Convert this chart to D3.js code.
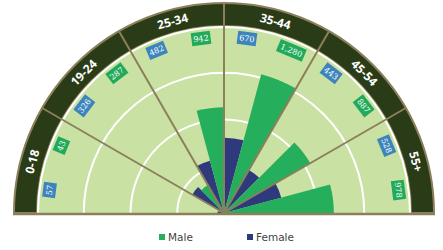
<!DOCTYPE html>
<html>
<head>
<meta charset="utf-8">
<script src="https://cdn.jsdelivr.net/npm/d3@7"></script>
<style>
  body { margin: 0; background: #fff; }
  svg { display: block; }
</style>
</head>
<body>
<div id="chart"></div>
<script>
// age groups, left to right
const groups = ["0-18", "19-24", "25-34", "35-44", "45-54", "55+"];
const female = [57, 326, 482, 670, 443, 528];
const male = [43, 287, 942, 1280, 887, 978];
const maleLabels = ["43", "287", "942", "1,280", "887", "978"];
const femaleLabels = ["57", "326", "482", "670", "443", "528"];

const W = 443, H = 250;
const cx = 224, cy = 213;
const rInner = 187;   // light green area
const rBand = 210;    // outer edge of dark band

const svg = d3.select("#chart").append("svg")
    .attr("width", W)
    .attr("height", H);

const g = svg.append("g").attr("transform", "translate(" + cx + "," + cy + ")");

// radius scale (linear)
const r = d3.scaleLinear().domain([0, 1665]).range([0, rInner]);

const deg = Math.PI / 180;
// sector angle (d3 convention: 0 = up, clockwise)
const angle = d3.scaleBand().domain(groups).range([-90 * deg, 90 * deg]).padding(0);
const step = angle.bandwidth();

const arc = d3.arc();

// dark band
g.append("path")
    .attr("d", arc({innerRadius: rInner, outerRadius: rBand, startAngle: -90 * deg, endAngle: 90 * deg}))
    .attr("fill", "#2a3c17")
    .attr("stroke", "#8c7f5c")
    .attr("stroke-width", 2);

// light background
g.append("path")
    .attr("d", arc({innerRadius: 0, outerRadius: rInner, startAngle: -90 * deg, endAngle: 90 * deg}))
    .attr("fill", "#c9e2a4");

// grid rings
const rings = [rInner / 4, rInner / 2, rInner * 3 / 4, rInner - 1];
g.selectAll(".ring")
    .data(rings)
    .enter().append("path")
    .attr("class", "ring")
    .attr("d", function(d) {
        return d3.arc()({innerRadius: d, outerRadius: d, startAngle: -90 * deg, endAngle: 90 * deg});
    })
    .attr("fill", "none")
    .attr("stroke", "#fff")
    .attr("stroke-width", 2);

// bars: female on the left half of each sector, male on the right
const bars = [];
groups.forEach(function(k, i) {
    const a0 = angle(k);
    bars.push({v: female[i], s: a0, e: a0 + step / 2, c: "#2e3a7b"});
    bars.push({v: male[i], s: a0 + step / 2, e: a0 + step, c: "#25ae5b"});
});

g.selectAll(".bar")
    .data(bars)
    .enter().append("path")
    .attr("class", "bar")
    .attr("d", function(d) {
        return arc({innerRadius: 0, outerRadius: r(d.v), startAngle: d.s, endAngle: d.e});
    })
    .attr("fill", function(d) { return d.c; });

// sector dividers
g.selectAll(".div")
    .data(groups.slice(1))
    .enter().append("line")
    .attr("class", "div")
    .attr("x1", 0).attr("y1", 0)
    .attr("x2", function(d) { return rBand * Math.sin(angle(d)); })
    .attr("y2", function(d) { return -rBand * Math.cos(angle(d)); })
    .attr("stroke", "#8c7f5c")
    .attr("stroke-width", 2);

// baseline
svg.append("line")
    .attr("x1", cx - rBand - 1).attr("x2", cx + rBand + 1)
    .attr("y1", cy + 1).attr("y2", cy + 1)
    .attr("stroke", "#8c7f5c")
    .attr("stroke-width", 2.5);

// value labels
const labels = [];
groups.forEach(function(k, i) {
    const a0 = angle(k);
    labels.push({t: femaleLabels[i], a: a0 + step * 0.25, c: "#3d84bc"});
    labels.push({t: maleLabels[i], a: a0 + step * 0.75, c: "#22aa5a"});
});

const lr = 176;
const lab = g.selectAll(".lab")
    .data(labels)
    .enter().append("g")
    .attr("class", "lab")
    .attr("transform", function(d) {
        return "translate(" + (lr * Math.sin(d.a)) + "," + (-lr * Math.cos(d.a)) + ")rotate(" + (d.a / deg) + ")";
    });

lab.append("rect")
    .attr("x", function(d) { return -(d.t.length * 4.4 + 6) / 2; })
    .attr("y", -6.5)
    .attr("width", function(d) { return d.t.length * 4.4 + 6; })
    .attr("height", 13)
    .attr("fill", function(d) { return d.c; });

lab.append("text")
    .attr("text-anchor", "middle")
    .attr("dy", "0.35em")
    .attr("fill", "#fff")
    .style("font-family", "'DejaVu Serif', serif")
    .style("font-size", "8px")
    .text(function(d) { return d.t; });

// age group labels in the band
const br = (rInner + rBand) / 2;
g.selectAll(".grp")
    .data(groups)
    .enter().append("text")
    .attr("class", "grp")
    .attr("transform", function(d) {
        const a = angle(d) + step / 2;
        return "translate(" + (br * Math.sin(a)) + "," + (-br * Math.cos(a)) + ")rotate(" + (a / deg) + ")";
    })
    .attr("text-anchor", "middle")
    .attr("dy", "0.36em")
    .attr("fill", "#fff")
    .style("font-family", "'Open Sans', sans-serif")
    .style("font-weight", "bold")
    .style("font-size", "12px")
    .text(function(d) { return d; });

// legend
const legend = [{t: "Male", c: "#25ae5b", x: 159}, {t: "Female", c: "#2e3a7b", x: 247}];
const lg = svg.selectAll(".leg")
    .data(legend)
    .enter().append("g")
    .attr("class", "leg")
    .attr("transform", function(d) { return "translate(" + d.x + ",234)"; });
lg.append("rect")
    .attr("width", 6).attr("height", 6)
    .attr("fill", function(d) { return d.c; });
lg.append("text")
    .attr("x", 9)
    .attr("y", 7)
    .attr("fill", "#444")
    .style("font-family", "'DejaVu Sans', sans-serif")
    .style("font-size", "10.5px")
    .text(function(d) { return d.t; });
</script>
</body>
</html>
